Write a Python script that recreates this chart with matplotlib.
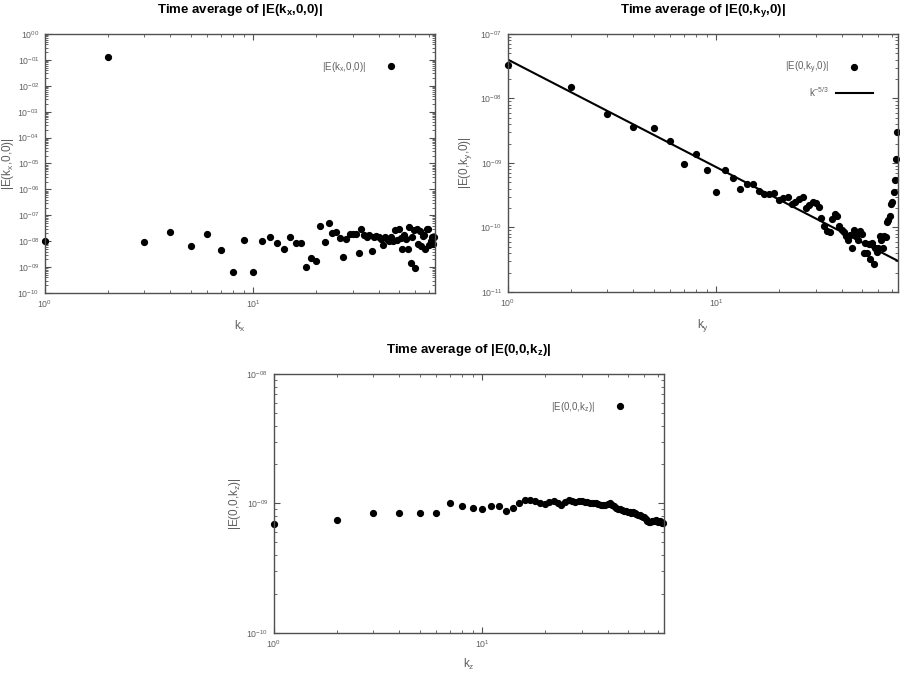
import numpy as np
import matplotlib
matplotlib.use('Agg')
import matplotlib.pyplot as plt
from matplotlib.ticker import LogLocator, FuncFormatter, NullFormatter

plt.rcParams['font.family'] = ['Liberation Sans', 'DejaVu Sans']
plt.rcParams['mathtext.fontset'] = 'custom'
plt.rcParams['mathtext.rm'] = 'Liberation Sans'
plt.rcParams['mathtext.it'] = 'Liberation Sans'
plt.rcParams['mathtext.bf'] = 'Liberation Sans:bold'

# wavenumbers 1..74
k = np.arange(1, 75)

ex_kx = [1.0e-8, 1.26e-1, 9.5e-9, 2.2e-8, 6.3e-9, 1.9e-8, 4.7e-9, 6.6e-10, 1.1e-8, 6.6e-10,
         1.0e-8, 1.45e-8, 8.7e-9, 5.0e-9, 1.4e-8, 8.7e-9, 8.7e-9, 1.0e-9, 2.2e-9, 1.65e-9,
         3.8e-8, 9.5e-9, 5.0e-8, 2.1e-8, 2.3e-8, 1.3e-8, 2.4e-9, 1.2e-8, 1.9e-8, 1.9e-8,
         1.9e-8, 3.5e-9, 3.0e-8, 1.7e-8, 1.5e-8, 1.7e-8, 4.3e-9, 1.4e-8, 1.6e-8, 1.4e-8,
         1.25e-8, 7.2e-9, 1.4e-8, 1.2e-8, 1.05e-8, 1.4e-8, 1.0e-8, 2.6e-8, 1.1e-8, 3.0e-8,
         1.3e-8, 4.8e-9, 1.7e-8, 1.2e-8, 4.8e-9, 3.4e-8, 1.5e-9, 1.4e-8, 2.8e-8, 9.3e-10,
         3.0e-8, 8.0e-9, 2.4e-8, 6.4e-9, 1.6e-8, 1.7e-8, 5.0e-9, 2.9e-8, 3.0e-8, 7.0e-9,
         1.0e-8, 1.4e-8, 8.0e-9, 1.4e-8]

ey_ky = [3.3e-8, 1.5e-8, 5.8e-9, 3.6e-9, 3.5e-9, 2.2e-9, 9.5e-10, 1.4e-9, 7.9e-10, 3.5e-10,
         7.9e-10, 5.8e-10, 4.0e-10, 4.7e-10, 4.7e-10, 3.7e-10, 3.3e-10, 3.3e-10, 3.4e-10, 2.7e-10,
         2.9e-10, 3.0e-10, 2.3e-10, 2.5e-10, 2.8e-10, 3.0e-10, 2.0e-10, 2.2e-10, 2.5e-10, 2.4e-10,
         2.1e-10, 1.4e-10, 1.05e-10, 8.7e-11, 8.5e-11, 1.36e-10, 1.6e-10, 1.5e-10, 1.05e-10, 9.2e-11,
         8.5e-11, 7.3e-11, 6.3e-11, 7.7e-11, 4.8e-11, 9.2e-11, 7.4e-11, 6.3e-11, 8.9e-11, 7.8e-11,
         4.0e-11, 5.7e-11, 4.0e-11, 5.5e-11, 3.2e-11, 5.8e-11, 2.7e-11, 4.8e-11, 4.2e-11, 4.8e-11,
         7.5e-11, 6.3e-11, 4.8e-11, 7.3e-11, 7.1e-11, 1.2e-10, 1.3e-10, 1.5e-10, 2.3e-10, 2.5e-10,
         3.6e-10, 5.4e-10, 1.15e-9, 3.0e-9]

ez_kz = [6.95e-10, 7.5e-10, 8.5e-10, 8.5e-10, 8.5e-10, 8.5e-10, 1.01e-9, 9.5e-10, 9.3e-10, 9.1e-10,
         9.5e-10, 9.5e-10, 8.8e-10, 9.3e-10, 1.0e-9, 1.06e-9, 1.07e-9, 1.05e-9, 1.0e-9, 9.9e-10,
         1.02e-9, 1.04e-9, 1.0e-9, 9.7e-10, 1.02e-9, 1.07e-9, 1.05e-9, 1.03e-9, 1.04e-9, 1.04e-9,
         1.03e-9, 1.02e-9, 1.01e-9, 1.0e-9, 1.0e-9, 9.9e-10, 9.8e-10, 9.8e-10, 9.7e-10, 9.9e-10,
         1.0e-9, 9.8e-10, 9.5e-10, 9.3e-10, 9.1e-10, 9.0e-10, 8.9e-10, 8.8e-10, 8.7e-10, 8.6e-10,
         8.6e-10, 8.5e-10, 8.6e-10, 8.5e-10, 8.3e-10, 8.2e-10, 8.1e-10, 8.0e-10, 7.9e-10, 7.8e-10,
         7.6e-10, 7.3e-10, 7.2e-10, 7.2e-10, 7.3e-10, 7.3e-10, 7.3e-10, 7.4e-10, 7.3e-10, 7.2e-10,
         7.3e-10, 7.2e-10, 7.1e-10, 7.1e-10]

# k^-5/3 reference line
fit_amp = 4.0e-8
fit_exp = -5.0 / 3.0

frame_col = '#505050'
text_col = '#606060'


def ylab(v, pos):
    e = int(round(np.log10(v)))
    s = '-' if e < 0 else ''
    return r'$10^{%s%02d}$' % (s, abs(e))


def xlab(v, pos):
    e = int(round(np.log10(v)))
    return r'$10^{%d}$' % e


def style(ax, ylim):
    ax.set_xscale('log')
    ax.set_yscale('log')
    ax.set_xlim(1, 74.5)
    ax.set_ylim(*ylim)
    ax.xaxis.set_major_locator(LogLocator(base=10, numticks=10))
    ax.xaxis.set_minor_locator(LogLocator(base=10, subs=np.arange(2, 10), numticks=20))
    ax.yaxis.set_major_locator(LogLocator(base=10, numticks=20))
    ax.yaxis.set_minor_locator(LogLocator(base=10, subs=np.arange(2, 10), numticks=40))
    ax.xaxis.set_major_formatter(FuncFormatter(xlab))
    ax.yaxis.set_major_formatter(FuncFormatter(ylab))
    ax.xaxis.set_minor_formatter(NullFormatter())
    ax.yaxis.set_minor_formatter(NullFormatter())
    ax.tick_params(which='both', direction='in', top=True, right=True,
                   color=frame_col, labelcolor=text_col, labelsize=6.3)
    ax.tick_params(which='major', length=4, width=0.8)
    ax.tick_params(which='minor', length=2, width=0.6)
    ax.tick_params(axis='x', pad=4)
    ax.tick_params(axis='y', pad=4)
    for sp in ax.spines.values():
        sp.set_color(frame_col)
        sp.set_linewidth(1.0)


def labels(ax, title, xl, yl, ylx, xly):
    ax.set_title(title, fontsize=9.5, fontweight='bold', pad=15)
    ax.set_xlabel(xl, color=text_col, fontsize=8.5, va='center')
    ax.set_ylabel(yl, color=text_col, fontsize=8.5, va='center')
    ax.xaxis.set_label_coords(0.5, xly)
    ax.yaxis.set_label_coords(ylx, 0.5)


leg_kw = dict(loc='upper right', frameon=False, markerfirst=False, fontsize=7,
              handletextpad=0.7, handlelength=3.8, labelspacing=0.9,
              borderaxespad=0, borderpad=0, labelcolor=text_col)

fig = plt.figure(figsize=(9, 6.77), dpi=100)
ax1 = fig.add_axes([0.05, 0.5672, 0.4333, 0.3826])
ax2 = fig.add_axes([0.5644, 0.5687, 0.4333, 0.3811])
ax3 = fig.add_axes([0.3044, 0.065, 0.4333, 0.3826])

mk = dict(marker='o', ls='none', ms=4.2, color='black', clip_on=False)

# |E(kx,0,0)|
ax1.plot(k, ex_kx, label='|E(k$_\\mathregular{x}$,0,0)|', **mk)
style(ax1, (1e-10, 1e0))
labels(ax1, 'Time average of |E(k$_\\mathbf{x}$,0,0)|', 'k$_\\mathregular{x}$',
       '|E(k$_\\mathregular{x}$,0,0)|', -0.095, -0.13)
ax1.legend(bbox_to_anchor=(0.935, 0.9), **leg_kw)

# |E(0,ky,0)|
ax2.plot(k, ey_ky, label='|E(0,k$_\\mathregular{y}$,0)|', **mk)
kk = np.array([1.0, 74.5])
ax2.plot(kk, fit_amp * kk ** fit_exp, color='black', lw=1.5, label='k$^{-5/3}$')
style(ax2, (1e-11, 1e-7))
labels(ax2, 'Time average of |E(0,k$_\\mathbf{y}$,0)|', 'k$_\\mathregular{y}$',
       '|E(0,k$_\\mathregular{y}$,0)|', -0.11, -0.13)
ax2.legend(bbox_to_anchor=(0.936, 0.9), **leg_kw)

# |E(0,0,kz)|
ax3.plot(k, ez_kz, label='|E(0,0,k$_\\mathregular{z}$)|', **mk)
style(ax3, (1e-10, 1e-8))
labels(ax3, 'Time average of |E(0,0,k$_\\mathbf{z}$)|', 'k$_\\mathregular{z}$',
       '|E(0,0,k$_\\mathregular{z}$)|', -0.1, -0.12)
ax3.legend(bbox_to_anchor=(0.936, 0.9), **leg_kw)

fig.savefig('out.png', dpi=100)
plt.close(fig)
